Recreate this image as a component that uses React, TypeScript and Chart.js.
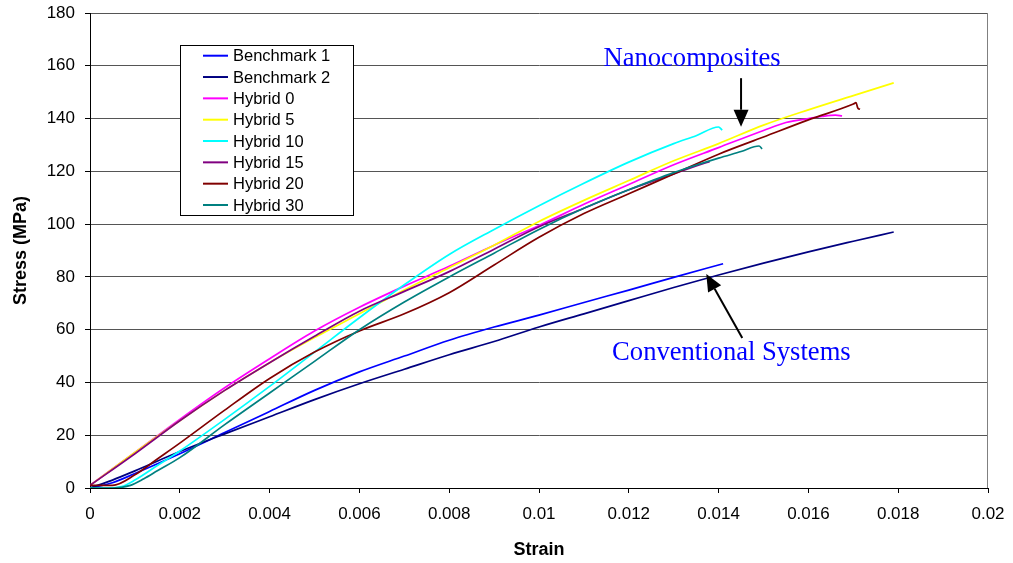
import React, { useEffect, useRef } from "react";
import { Chart, registerables } from "chart.js";

Chart.register(...registerables);

const seriesNames = ["Benchmark 1", "Benchmark 2", "Hybrid 0", "Hybrid 5", "Hybrid 10", "Hybrid 15", "Hybrid 20", "Hybrid 30"];
const seriesColors = ["#0000FF", "#000080", "#FF00FF", "#FFFF00", "#00FFFF", "#800080", "#800000", "#008080"];

const b1Strain = [0, 0.0005, 0.001, 0.002, 0.003, 0.004, 0.005, 0.006, 0.007, 0.008, 0.009, 0.01, 0.011, 0.012, 0.013, 0.0141];
const b1Stress = [0, 2, 5.5, 13, 21, 29, 37, 44, 50, 56, 61, 65.5, 70.3, 75, 79.8, 85];

const b2Strain = [0, 0.0005, 0.001, 0.002, 0.003, 0.004, 0.005, 0.006, 0.007, 0.008, 0.009, 0.01, 0.011, 0.012, 0.013, 0.014, 0.015, 0.016, 0.017, 0.0179];
const b2Stress = [0, 3, 6.5, 13.8, 20.5, 27, 33.5, 39.5, 45, 50.5, 55.5, 61, 66, 71, 76, 80.7, 85.2, 89.5, 93.5, 97];

const h0Strain = [0, 0.001, 0.002, 0.003, 0.004, 0.005, 0.006, 0.007, 0.008, 0.009, 0.01, 0.011, 0.012, 0.013, 0.014, 0.015, 0.0155, 0.016, 0.0163, 0.0166, 0.01675];
const h0Stress = [1, 13.5, 26, 38, 49, 59.5, 68.5, 76.5, 84, 92, 99.5, 107.5, 115, 122.5, 129, 135.5, 138.5, 140, 140.8, 141.3, 141];

const h5Strain = [0, 0.001, 0.002, 0.003, 0.004, 0.005, 0.006, 0.007, 0.008, 0.009, 0.01, 0.011, 0.012, 0.013, 0.014, 0.015, 0.016, 0.017, 0.0179];
const h5Stress = [1, 13.5, 25.5, 37, 47.5, 57, 66, 75, 83.5, 92, 101, 109, 116.5, 124, 130.5, 137.5, 143.3, 148.7, 153.5];

const h10Strain = [0, 0.0004, 0.0007, 0.001, 0.0015, 0.002, 0.003, 0.004, 0.005, 0.006, 0.007, 0.008, 0.009, 0.01, 0.011, 0.012, 0.013, 0.0135, 0.014, 0.01408];
const h10Stress = [0, 0, 0.5, 3, 8.5, 14, 26, 38.5, 51.5, 64.5, 77, 88.5, 98, 107, 115.5, 123.5, 130.5, 133.5, 136.8, 135.6];

const h15Strain = [0, 0.001, 0.002, 0.003, 0.004, 0.005, 0.006, 0.007, 0.008, 0.009, 0.01, 0.011, 0.012, 0.013, 0.0135, 0.0138];
const h15Stress = [1, 13, 25.5, 37, 47.5, 57.5, 67, 74.5, 82, 90.5, 99, 106, 113, 119, 122, 123.7];

const h20Strain = [0, 0.0005, 0.001, 0.0015, 0.002, 0.003, 0.004, 0.005, 0.006, 0.007, 0.008, 0.009, 0.01, 0.011, 0.012, 0.013, 0.014, 0.015, 0.016, 0.017, 0.01706, 0.0171, 0.01715];
const h20Stress = [1, 1, 5, 11, 17, 29.5, 41.5, 51.5, 59.5, 66, 74, 84.5, 95, 104, 111.5, 119, 126.5, 133, 139.5, 145.5, 146, 144, 143.5];

const h30Strain = [0, 0.0005, 0.0009, 0.0012, 0.0015, 0.002, 0.003, 0.004, 0.005, 0.006, 0.007, 0.008, 0.009, 0.01, 0.011, 0.012, 0.013, 0.014, 0.0145, 0.0149, 0.01497];
const h30Stress = [0, 0, 1, 3.5, 6.5, 11.5, 24, 36, 48, 60, 70.5, 80, 89, 98, 106, 113, 119.5, 125, 127.5, 129.6, 128.5];

const allStrain = [b1Strain, b2Strain, h0Strain, h5Strain, h10Strain, h15Strain, h20Strain, h30Strain];
const allStress = [b1Stress, b2Stress, h0Stress, h5Stress, h10Stress, h15Stress, h20Stress, h30Stress];

const xTickLabels = ["0", "0.002", "0.004", "0.006", "0.008", "0.01", "0.012", "0.014", "0.016", "0.018", "0.02"];

const nanoLabel = "Nanocomposites";
const convLabel = "Conventional Systems";

function drawArrow(ctx: CanvasRenderingContext2D, x1: number, y1: number, x2: number, y2: number) {
  const ang = Math.atan2(y2 - y1, x2 - x1);
  const headLen = 17;
  const headHalf = 7.5;
  const bx = x2 - headLen * Math.cos(ang);
  const by = y2 - headLen * Math.sin(ang);
  ctx.strokeStyle = "#000";
  ctx.lineWidth = 2;
  ctx.beginPath();
  ctx.moveTo(x1, y1);
  ctx.lineTo(bx, by);
  ctx.stroke();
  ctx.fillStyle = "#000";
  ctx.beginPath();
  ctx.moveTo(x2, y2);
  ctx.lineTo(bx + headHalf * Math.sin(ang), by - headHalf * Math.cos(ang));
  ctx.lineTo(bx - headHalf * Math.sin(ang), by + headHalf * Math.cos(ang));
  ctx.closePath();
  ctx.fill();
}

const overlayPlugin = {
  id: "overlay",
  afterDraw(chart: any) {
    const ctx: CanvasRenderingContext2D = chart.ctx;
    const area = chart.chartArea;
    const xs = chart.scales.x;
    const ys = chart.scales.y;
    ctx.save();
    // right border of plot area
    ctx.strokeStyle = "#808080";
    ctx.lineWidth = 1;
    ctx.beginPath();
    ctx.moveTo(Math.round(area.right) - 0.5, area.top);
    ctx.lineTo(Math.round(area.right) - 0.5, area.bottom);
    ctx.stroke();

    // legend box
    const lx = 180.5, ly = 45.5, lw = 173, lh = 170;
    ctx.fillStyle = "#fff";
    ctx.fillRect(lx, ly, lw, lh);
    ctx.strokeStyle = "#000";
    ctx.lineWidth = 1;
    ctx.strokeRect(lx, ly, lw, lh);
    ctx.font = "16.5px 'Liberation Sans', Arial, sans-serif";
    ctx.textBaseline = "middle";
    ctx.textAlign = "left";
    chart.data.datasets.forEach((ds: any, i: number) => {
      const y = 55.7 + i * 21.33;
      ctx.strokeStyle = ds.borderColor;
      ctx.lineWidth = 2;
      ctx.beginPath();
      ctx.moveTo(203, y);
      ctx.lineTo(228, y);
      ctx.stroke();
      ctx.fillStyle = "#000";
      ctx.fillText(ds.label, 233, y + 1);
    });

    // annotations
    ctx.font = "26.6px 'Liberation Serif', 'Times New Roman', serif";
    ctx.fillStyle = "#0000FF";
    ctx.textBaseline = "alphabetic";
    ctx.fillText(nanoLabel, xs.getPixelForValue(0.011435), ys.getPixelForValue(159.9));
    ctx.fillText(convLabel, xs.getPixelForValue(0.011628), ys.getPixelForValue(48.5));

    drawArrow(ctx, xs.getPixelForValue(0.0145), ys.getPixelForValue(155.3), xs.getPixelForValue(0.0145), ys.getPixelForValue(136.9));
    drawArrow(ctx, xs.getPixelForValue(0.014527), ys.getPixelForValue(56.8), xs.getPixelForValue(0.013726), ys.getPixelForValue(81.1));
    ctx.restore();
  },
};

export default function App() {
  const ref = useRef<HTMLCanvasElement | null>(null);

  useEffect(() => {
    document.body.style.margin = "0";
    const canvas = ref.current;
    if (!canvas) return;
    const datasets = seriesNames.map((name, i) => ({
      label: name,
      data: allStrain[i].map((x, j) => ({ x, y: allStress[i][j] })),
      borderColor: seriesColors[i],
      backgroundColor: seriesColors[i],
      borderWidth: 1.7,
      pointRadius: 0,
      fill: false,
      tension: 0,
      cubicInterpolationMode: "monotone" as const,
      order: seriesNames.length - 1 - i,
    }));
    const tickFont = { family: "'Liberation Sans', Arial, sans-serif", size: 17 };
    const titleFont = { family: "'Liberation Sans', Arial, sans-serif", size: 18, weight: "bold" as const };
    const chart = new Chart(canvas, {
      type: "line",
      data: { datasets },
      plugins: [overlayPlugin],
      options: {
        animation: false,
        responsive: false,
        devicePixelRatio: 1,
        layout: { padding: { left: 0, top: 13, right: 25, bottom: 0 } },
        plugins: { legend: { display: false }, tooltip: { enabled: false } },
        scales: {
          x: {
            type: "linear",
            min: 0,
            max: 0.02,
            afterFit: (s: any) => { s.height = 75; s.paddingLeft = 0; s.paddingRight = 0; },
            ticks: {
              stepSize: 0.002,
              color: "#000",
              font: tickFont,
              padding: 11,
              maxRotation: 0,
              autoSkip: false,
              callback: (v: any) => {
                const idx = Math.round(Number(v) / 0.002);
                return xTickLabels[idx] ?? "";
              },
            },
            grid: { drawOnChartArea: false, drawTicks: true, tickLength: 5, color: "#000", tickColor: "#000" },
            border: { display: true, color: "#000", width: 1 },
            title: { display: true, text: "Strain", color: "#000", font: titleFont, padding: { top: 0, bottom: 2 } },
          },
          y: {
            type: "linear",
            min: 0,
            max: 180,
            afterFit: (s: any) => { s.width = 90; s.paddingTop = 0; s.paddingBottom = 0; },
            ticks: { stepSize: 20, color: "#000", font: tickFont, padding: 10 },
            grid: { drawOnChartArea: true, drawTicks: true, tickLength: 5, color: "#555", tickColor: "#000", lineWidth: 1 },
            border: { display: true, color: "#000", width: 1 },
            title: { display: true, text: "Stress (MPa)", color: "#000", font: titleFont, padding: { top: 10.7, bottom: 0 } },
          },
        },
      },
    });
    return () => chart.destroy();
  }, []);

  return <canvas ref={ref} width={1013} height={563} style={{ display: "block" }} />;
}
